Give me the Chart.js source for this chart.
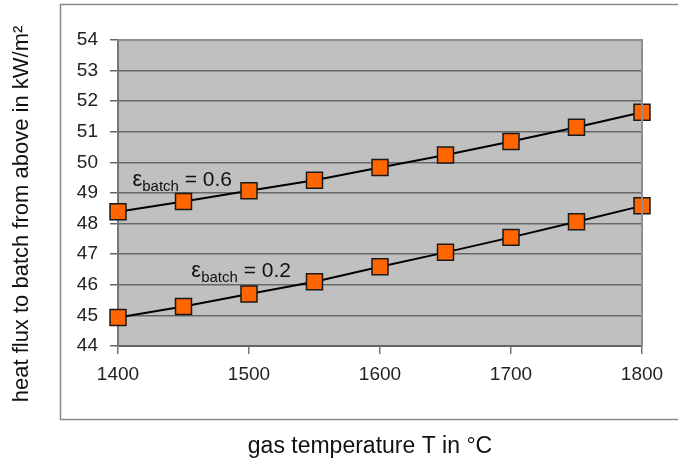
<!DOCTYPE html>
<html>
<head>
<meta charset="utf-8">
<script src="https://cdn.jsdelivr.net/npm/chart.js@4/dist/chart.umd.min.js"></script>
<style>
  html, body { margin: 0; padding: 0; background: #fff; }
  #wrap { width: 678px; height: 461px; }
</style>
</head>
<body>
<div id="wrap"><canvas id="c" width="678" height="461"></canvas></div>
<script>
// gas temperature in °C
var temps = [1400, 1450, 1500, 1550, 1600, 1650, 1700, 1750, 1800];
// heat flux to batch from above, kW/m²
var flux06 = [48.39, 48.72, 49.07, 49.42, 49.83, 50.24, 50.68, 51.15, 51.64];
var flux02 = [44.93, 45.29, 45.70, 46.10, 46.59, 47.06, 47.55, 48.06, 48.58];
var emissivity = ['0.6', '0.2'];
// where each curve's label sits (temperature, flux at baseline)
var labelTemp = [1411, 1456];
var labelFlux = [49.24, 46.26];

var FONT = '"Liberation Sans", Arial, sans-serif';

function pts(ys) {
  return temps.map(function (t, i) { return { x: t, y: ys[i] }; });
}

// frame, grey plot area, axis titles and the ε labels
var deco = {
  id: 'deco',
  beforeDraw: function (chart) {
    var ctx = chart.ctx, a = chart.chartArea;
    ctx.save();
    ctx.strokeStyle = '#8a8a8a';
    ctx.lineWidth = 1.5;
    ctx.strokeRect(60.5, 4.5, 640, 415);
    ctx.fillStyle = '#c0c0c0';
    ctx.fillRect(a.left, a.top, a.right - a.left, a.bottom - a.top);
    ctx.restore();
  },
  afterDraw: function (chart) {
    var ctx = chart.ctx, a = chart.chartArea;
    var xs = chart.scales.x, ys = chart.scales.y;
    ctx.save();
    // lighter edges top/right
    ctx.strokeStyle = '#8f8f8f';
    ctx.lineWidth = 2;
    ctx.beginPath();
    ctx.moveTo(a.left, a.top); ctx.lineTo(a.right, a.top); ctx.lineTo(a.right, a.bottom);
    ctx.stroke();

    ctx.fillStyle = '#111';
    // axis titles
    ctx.font = '23px ' + FONT;
    ctx.textAlign = 'center';
    ctx.textBaseline = 'alphabetic';
    ctx.fillText('gas temperature T in °C', 370, 453);
    ctx.save();
    ctx.translate(28, 214);
    ctx.rotate(-Math.PI / 2);
    ctx.font = '22px ' + FONT;
    ctx.fillText('heat flux to batch from above in kW/m²', 0, 0);
    ctx.restore();

    // ε_batch = value
    ctx.textAlign = 'left';
    emissivity.forEach(function (v, i) {
      var x = xs.getPixelForValue(labelTemp[i]);
      var y = ys.getPixelForValue(labelFlux[i]);
      ctx.font = '22px ' + FONT;
      ctx.fillText('ε', x, y);
      x += ctx.measureText('ε').width;
      ctx.font = '15px ' + FONT;
      ctx.fillText('batch', x, y + 5);
      x += ctx.measureText('batch').width;
      ctx.font = '21px ' + FONT;
      ctx.fillText(' = ' + v, x, y);
    });
    ctx.restore();
  }
};

var marker = {
  borderColor: '#000',
  borderWidth: 2,
  pointStyle: 'rect',
  pointRadius: 11.3,
  pointBackgroundColor: '#ff6600',
  pointBorderColor: '#1a1a1a',
  pointBorderWidth: 1.5,
  clip: false,
  tension: 0
};

function plain(v) { return String(v); }

new Chart(document.getElementById('c'), {
  type: 'line',
  data: {
    datasets: [
      Object.assign({ label: 'ε = ' + emissivity[0], data: pts(flux06) }, marker),
      Object.assign({ label: 'ε = ' + emissivity[1], data: pts(flux02) }, marker)
    ]
  },
  options: {
    responsive: false,
    animation: false,
    devicePixelRatio: 1,
    layout: { padding: { left: 0, top: 40, right: 36, bottom: 0 } },
    plugins: { legend: { display: false }, tooltip: { enabled: false } },
    scales: {
      x: {
        type: 'linear', min: 1400, max: 1800,
        afterFit: function (s) { s.height = 115; },
        ticks: { stepSize: 100, color: '#222', padding: 9, callback: plain, font: { size: 19, family: FONT } },
        grid: { drawOnChartArea: false, drawTicks: true, tickLength: 8, tickColor: '#777', lineWidth: 1.5 },
        border: { display: true, color: '#666', width: 2 }
      },
      y: {
        min: 44, max: 54,
        afterFit: function (s) { s.width = 118; },
        ticks: { stepSize: 1, color: '#222', padding: 12, callback: plain, font: { size: 19, family: FONT } },
        grid: { color: '#666', lineWidth: 1.5, drawTicks: true, tickLength: 8, tickColor: '#666' },
        border: { display: true, color: '#777', width: 2 }
      }
    }
  },
  plugins: [deco]
});
</script>
</body>
</html>
